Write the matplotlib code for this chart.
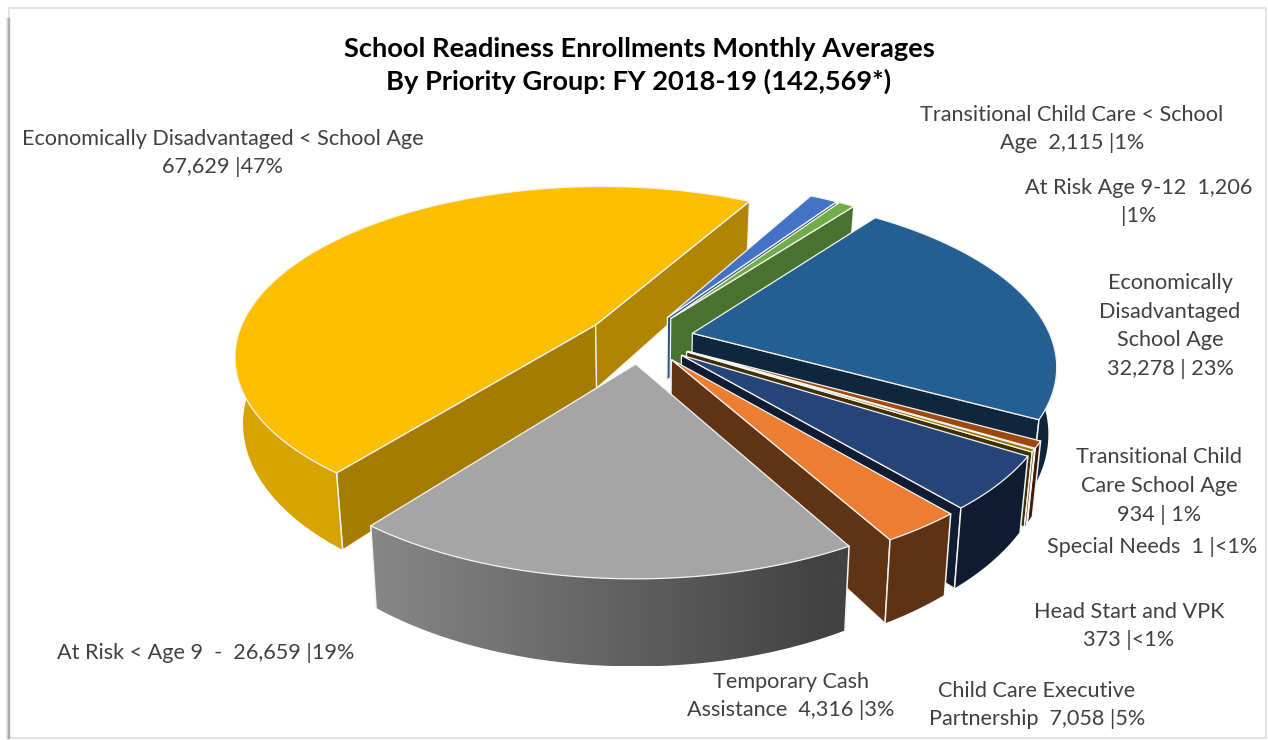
import numpy as np
import matplotlib
matplotlib.use('Agg')
import matplotlib.pyplot as plt
from matplotlib.patches import Polygon

plt.rcParams['font.family'] = ['Lato', 'DejaVu Sans']

# slices in drawing order, clockwise from the yellow one
categories = ['Economically Disadvantaged < School Age', 'Transitional Child Care < School Age',
              'At Risk Age 9-12', 'Economically Disadvantaged School Age',
              'Transitional Child Care School Age', 'Special Needs', 'Head Start and VPK',
              'Child Care Executive Partnership', 'Temporary Cash Assistance', 'At Risk < Age 9']
values = [67629, 2115, 1206, 32278, 934, 1, 373, 7058, 4316, 26659]
colors = ['#FCBF00', '#4472C4', '#70AD47', '#255E91', '#9E480E', '#5B9BD5', '#997300',
          '#264478', '#ED7D31', '#A5A5A5']
labels = ['Economically Disadvantaged < School Age\n67,629 |47%',
          'Transitional Child Care < School\nAge  2,115 |1%',
          'At Risk Age 9-12  1,206\n|1%',
          'Economically\nDisadvantaged\nSchool Age\n32,278 | 23%',
          'Transitional Child\nCare School Age\n934 | 1%',
          'Special Needs  1 |<1%',
          'Head Start and VPK\n373 |<1%',
          'Child Care Executive\nPartnership  7,058 |5%',
          'Temporary Cash\nAssistance  4,316 |3%',
          'At Risk < Age 9  -  26,659 |19%']
label_pos = [(223, 153), (1072, 129), (1139, 202), (1170, 326), (1159, 486), (1152, 547),
             (1129, 626), (1037, 705), (791, 696), (206, 653)]
title = 'School Readiness Enrollments Monthly Averages\nBy Priority Group: FY 2018-19 (142,569*)'

# projection of the pie, in pixels
CX, CY = 640, 338.5
RX, RY = 359, 167
PERSP = 0.175
DEPTH = 64.5
BOTTOM_SCALE = 0.98
EXPLODE = 0.15
START = 232

EDGE = '#F4F4F4'


def project(u, v, bottom=False):
    w = 1 + PERSP * v
    s = BOTTOM_SCALE if bottom else 1.0
    x = CX + RX * u / w * s
    y = CY - RY * v / w * s
    if bottom:
        y = y + DEPTH / w ** 1.6
    return x, y


def shade(color, f):
    return tuple(c * f for c in matplotlib.colors.to_rgb(color))


def wall_shade(x):
    return np.clip(0.82 - (x - 370) / 475 * 0.44, 0.4, 0.86)


def draw_slice(ax, t0, t1, color, z):
    mid = np.radians((t0 + t1) / 2)
    ou, ov = EXPLODE * np.cos(mid), EXPLODE * np.sin(mid)
    ts = np.radians(np.linspace(t0, t1, 200))
    u = ou + np.cos(ts)
    v = ov + np.sin(ts)
    xt, yt = project(u, v)
    xb, yb = project(u, v, True)
    ax_t, ay_t = project(ou, ov)
    ax_b, ay_b = project(ou, ov, True)

    # flat side walls, only the ones turned to the viewer
    for i, normal in ((0, t0 + 90), (-1, t1 - 90)):
        if np.sin(np.radians(normal)) < 0:
            phi = (normal + 180) % 360 - 180
            f = np.interp(phi, [-180, -120, -40, -30], [0.4, 0.41, 0.64, 0.7])
            ax.fill([ax_t, xt[i], xb[i], ax_b], [ay_t, yt[i], yb[i], ay_b],
                    facecolor=shade(color, f), edgecolor=EDGE, lw=0.9, joinstyle='miter', zorder=z)

    # outer wall, a left to right gradient clipped to the wall outline
    front = np.where(np.sin(ts) <= 0.02)[0]
    if len(front) > 1:
        px = np.r_[xt[front], xb[front][::-1]]
        py = np.r_[yt[front], yb[front][::-1]]
        x0, x1 = px.min(), px.max()
        if x1 - x0 > 1:
            xs = np.linspace(x0, x1, 256)
            grad = np.array([[shade(color, wall_shade(x)) for x in xs]])
            im = ax.imshow(grad, extent=(x0, x1, py.max(), py.min()), aspect='auto',
                           interpolation='bilinear', zorder=z + 0.1)
            im.set_clip_path(Polygon(np.c_[px, py], closed=True, transform=ax.transData))
        for i in (0, -1):
            if np.sin(ts[i]) <= 0.02:
                ax.plot([xt[i], xb[i]], [yt[i], yb[i]], color=EDGE, lw=1.1, zorder=z + 0.2)

    # top face
    ax.fill(np.r_[ax_t, xt], np.r_[ay_t, yt], facecolor=color, edgecolor=EDGE, lw=0.9,
            joinstyle='miter', zorder=z + 0.3)


def main():
    fig = plt.figure(figsize=(12.68, 7.40), dpi=100)
    ax = fig.add_axes([0, 0, 1, 1])
    ax.set_xlim(0, 1268)
    ax.set_ylim(740, 0)
    ax.autoscale(False)
    ax.axis('off')

    # chart frame with the soft shadow on the left
    ax.plot([9, 1266, 1266, 9, 9], [8, 8, 738, 738, 8], color='#DEDEDE', lw=1.2)
    for x, a in zip([5.5, 6.5, 7.5, 8.5], [0.12, 0.3, 0.5, 0.6]):
        ax.plot([x, x], [18, 738], color='#888888', alpha=a, lw=1)

    sweep = 360 * np.array(values) / np.sum(values)
    t = START
    for i, (s, color) in enumerate(zip(sweep, colors)):
        draw_slice(ax, t, t - s, color, 2 + i)
        t -= s

    ax.text(639, 65.5, title, ha='center', va='center', fontsize=19.6, fontweight='bold',
            color='black', linespacing=1.38, zorder=20)
    for text, (x, y) in zip(labels, label_pos):
        ax.text(x, y, text, ha='center', va='center', fontsize=15.6, color='#404040',
                linespacing=1.56, zorder=20)

    fig.savefig('out.png', dpi=100)


if __name__ == "__main__":
    main()
